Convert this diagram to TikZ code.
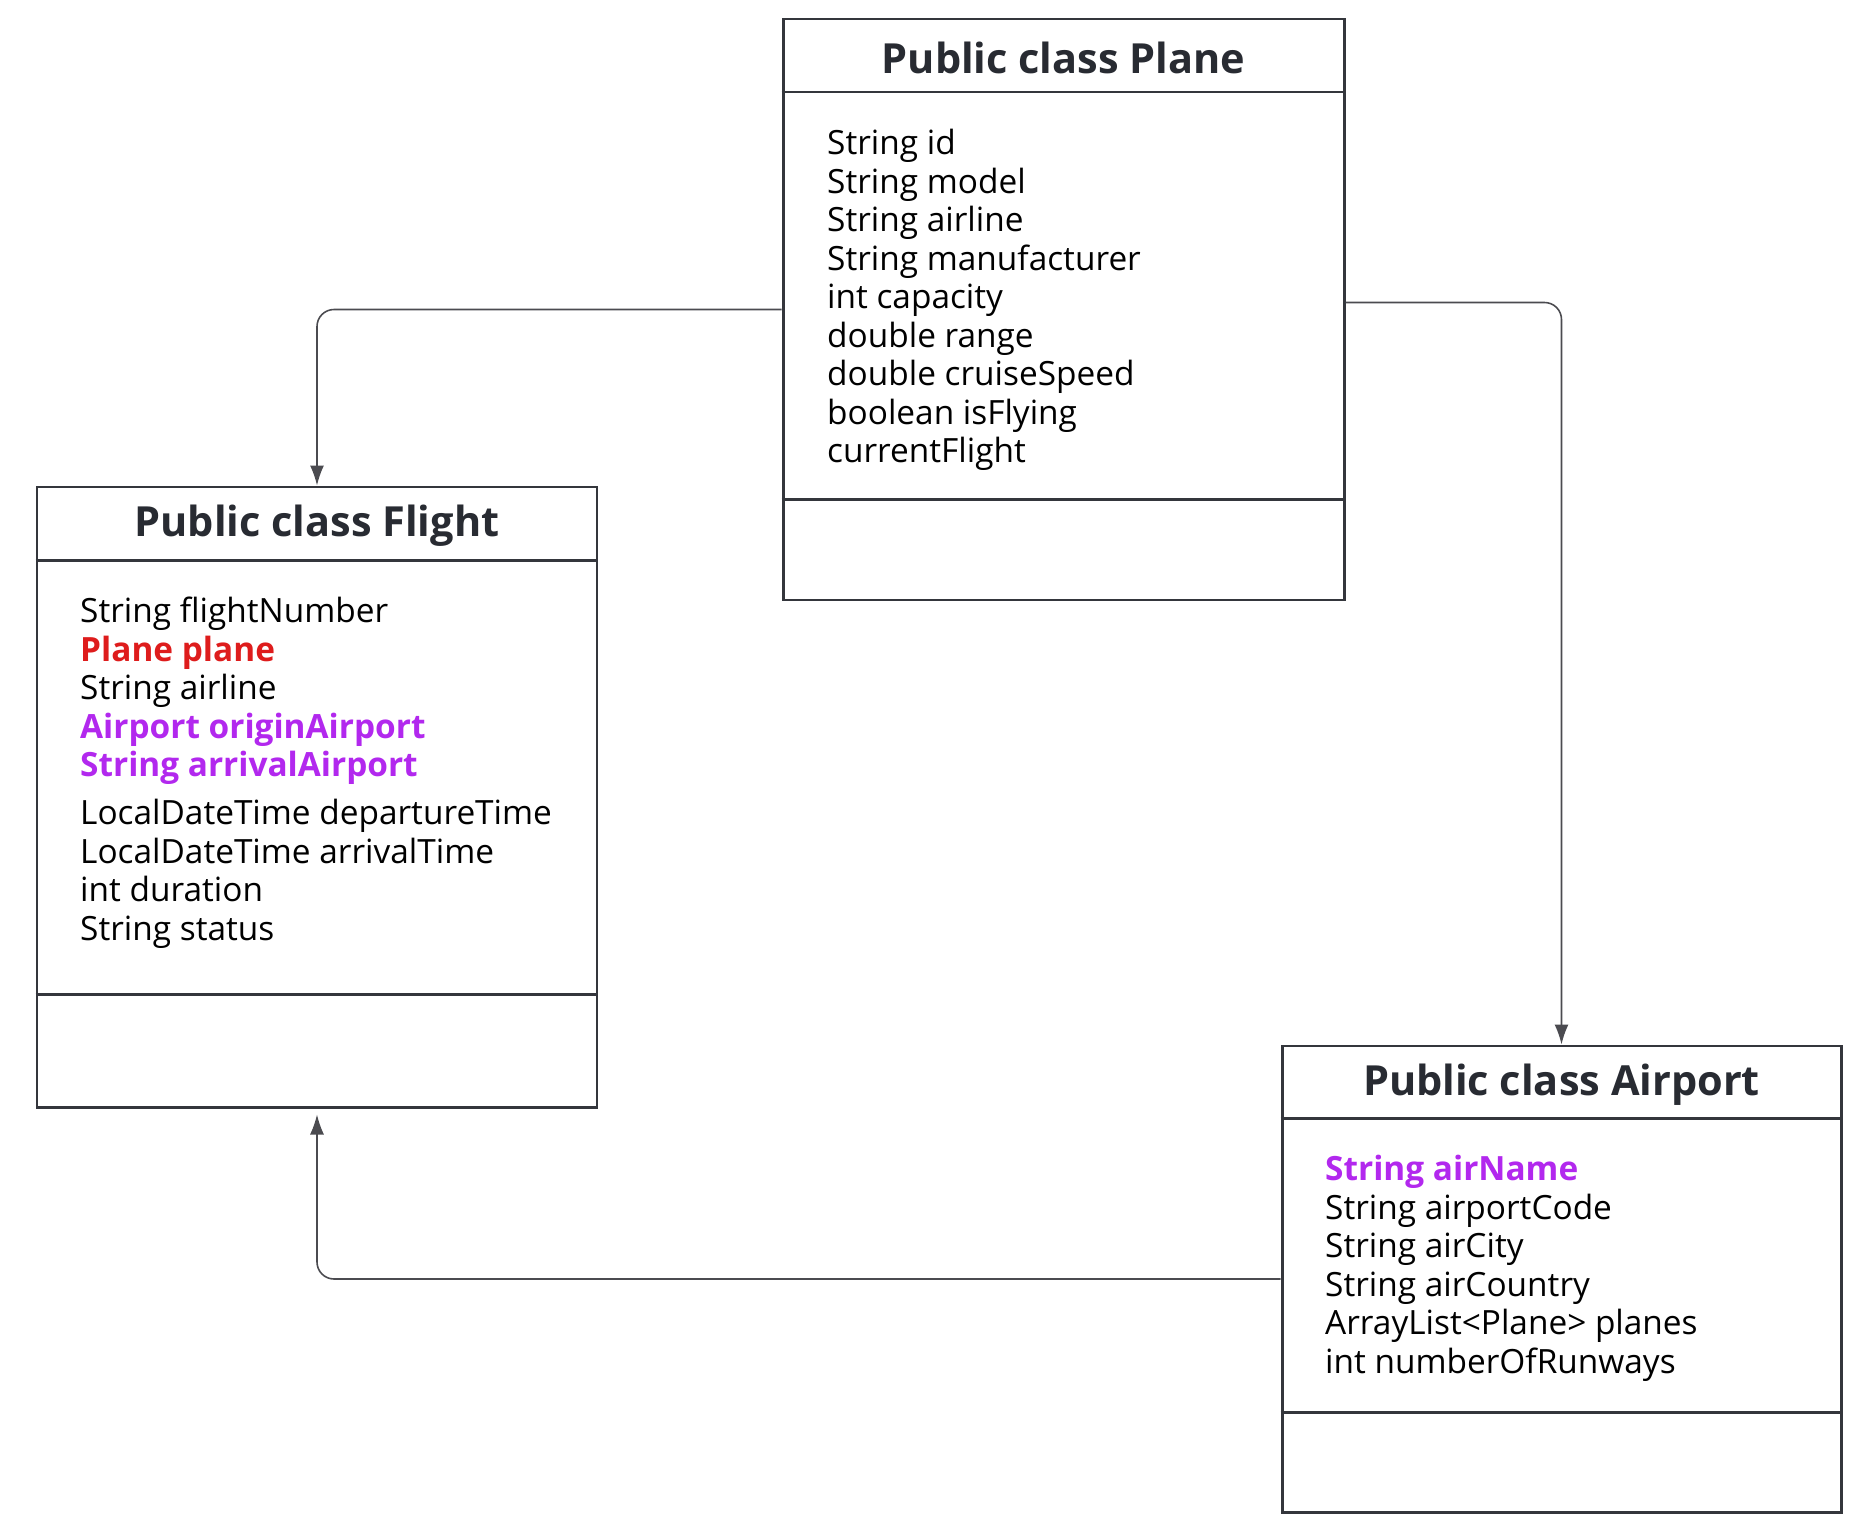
\documentclass[tikz,border=0pt]{standalone}
\usepackage{fontspec}
\setmainfont{Open Sans}
\usetikzlibrary{positioning}
\usetikzlibrary{arrows.meta}
\definecolor{boxgray}{RGB}{52,54,60}
\definecolor{titlegray}{RGB}{40,43,50}
\definecolor{linegray}{RGB}{75,75,80}
\definecolor{attred}{RGB}{222,28,28}
\definecolor{attpurple}{RGB}{178,40,238}

\begin{document}
\begin{tikzpicture}[
    classbox/.style={draw=boxgray, line width=0.85pt, inner sep=0pt},
    sepline/.style={draw=boxgray, line width=0.85pt},
    classtitle/.style={font=\fontsize{11.8}{13}\selectfont\bfseries, text=titlegray, inner sep=0pt},
    attrs/.style={font=\fontsize{9.5}{10.96}\selectfont, align=left, anchor=north west, inner sep=0pt},
    link/.style={draw=linegray, line width=0.45pt, rounded corners=1.7mm, -{Latex[length=2mm,width=1.4mm]}}
  ]
    \useasboundingbox (0,0) rectangle (18.70,-15.33);

    % draw class boxes
    \node[classbox, minimum width=5.61cm, minimum height=5.81cm] (plane) at (10.635,-3.095) {};
    \node[classbox, minimum width=5.60cm, minimum height=6.20cm] (flight) at (3.17,-7.97) {};
    \node[classbox, minimum width=5.59cm, minimum height=4.66cm] (airport) at (15.615,-12.79) {};

    % draw separator lines
    \draw[sepline] ([yshift=-7.45mm]plane.north west) -- ([yshift=-7.45mm]plane.north east);
    \draw[sepline] ([yshift=10.2mm]plane.south west) -- ([yshift=10.2mm]plane.south east);
    \draw[sepline] ([yshift=-7.5mm]flight.north west) -- ([yshift=-7.5mm]flight.north east);
    \draw[sepline] ([yshift=11.4mm]flight.south west) -- ([yshift=11.4mm]flight.south east);
    \draw[sepline] ([yshift=-7.4mm]airport.north west) -- ([yshift=-7.4mm]airport.north east);
    \draw[sepline] ([yshift=10.1mm]airport.south west) -- ([yshift=10.1mm]airport.south east);

    % draw titles
    \node[classtitle] (planetitle) at ([yshift=-4mm]plane.north) {Public class Plane};
    \node[classtitle] (flighttitle) at ([yshift=-4mm]flight.north) {Public class Flight};
    \node[classtitle] (airporttitle) at ([yshift=-4mm]airport.north) {Public class Airport};

    % draw attributes
    \node[attrs] (planeattrs) at ([xshift=4.5mm,yshift=-11.1mm]plane.north west) {String id\\
      String model\\
      String airline\\
      String manufacturer\\
      int capacity\\
      double range\\
      double cruiseSpeed\\
      boolean isFlying\\
      currentFlight};
    \node[attrs] (flightattrs) at ([xshift=4.4mm,yshift=-11.1mm]flight.north west) {String flightNumber\\
      \textcolor{attred}{\bfseries Plane plane}\\
      String airline\\
      \textcolor{attpurple}{\bfseries Airport originAirport}\\
      \textcolor{attpurple}{\bfseries String arrivalAirport}\\[2.7pt]
      LocalDateTime departureTime\\
      LocalDateTime arrivalTime\\
      int duration\\
      String status};
    \node[attrs] (airportattrs) at ([xshift=4.4mm,yshift=-11mm]airport.north west) {\textcolor{attpurple}{\bfseries String airName}\\
      String airportCode\\
      String airCity\\
      String airCountry\\
      ArrayList<Plane> planes\\
      int numberOfRunways};

    % draw arrows
    \draw[link] (plane.west) -| (flight.north);
    \draw[link] ([yshift=0.7mm]plane.east) -| (airport.north);
    \draw[link] (airport.west) -| ([yshift=-0.6mm]flight.south);
\end{tikzpicture}
\end{document}
